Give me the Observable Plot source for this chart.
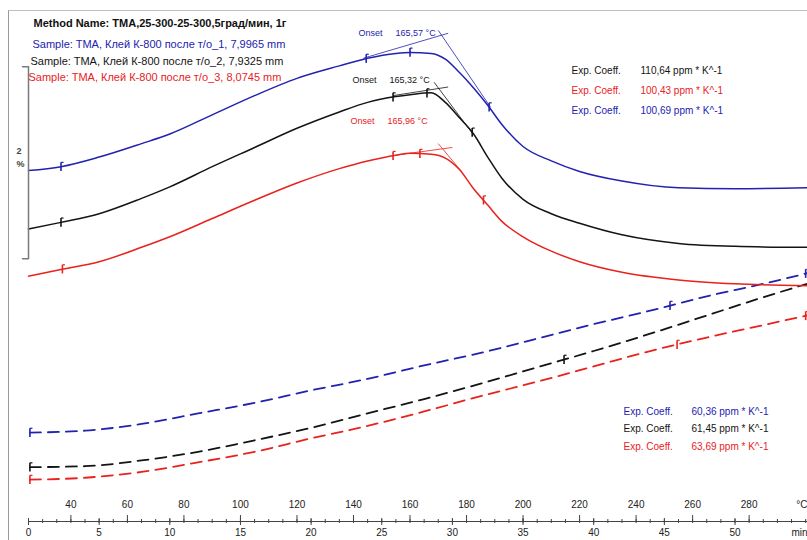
<!DOCTYPE html>
<html><head><meta charset="utf-8">
<script src="https://cdn.jsdelivr.net/npm/d3@7"></script>
<script src="https://cdn.jsdelivr.net/npm/@observablehq/plot@0.6"></script>
<style>
body{margin:0;background:#fff}
#wrap{position:relative;width:807px;height:540px;overflow:hidden;background:#fff}
#box{position:absolute;left:8px;top:10px;width:830px;height:560px;border-left:1px solid #9a9a9a;border-top:1px solid #c0c0c0;pointer-events:none}
</style></head><body><div id="wrap"><div id="box"></div></div>
<script>
// ---------- data (time in min, displacement in %, curves offset as in the original) ----------
const methodName = "Method Name: TMA,25-300-25-300,5град/мин, 1г";
const sampleNames = [
  "Sample: TMA, Клей К-800 после т/о_1, 7,9965 mm",
  "Sample: TMA, Клей К-800 после т/о_2, 7,9325 mm",
  "Sample: TMA, Клей К-800 после т/о_3, 8,0745 mm"
];
const onsetValues = ["165,57 °C", "165,32 °C", "165,96 °C"];
const expFirst = ["110,64 ppm * K^-1", "100,43 ppm * K^-1", "100,69 ppm * K^-1"]; // black, red, blue
const expSecond = ["60,36 ppm * K^-1", "61,45 ppm * K^-1", "63,69 ppm * K^-1"];   // blue, black, red

// first heating (solid)
const solidTime = [0, 2.3, 5, 8, 10, 13, 16, 19, 22, 24, 26, 27, 28.5, 29.5, 30.5, 31.5, 32.5, 33.5, 35, 37, 39, 42, 46, 50, 55.1];
const blueSolid  = [0, 0.04, 0.14, 0.28, 0.38, 0.58, 0.78, 0.96, 1.09, 1.17, 1.22, 1.23, 1.22, 1.16, 1.02, 0.86, 0.68, 0.48, 0.25, 0.10, -0.01, -0.11, -0.18, -0.19, -0.18];
const blackSolid = [-0.61, -0.54, -0.45, -0.29, -0.17, 0.04, 0.24, 0.44, 0.61, 0.71, 0.77, 0.79, 0.81, 0.71, 0.55, 0.38, 0.14, -0.08, -0.30, -0.45, -0.55, -0.67, -0.76, -0.79, -0.80];
const redSolid   = [-1.10, -1.03, -0.95, -0.80, -0.69, -0.50, -0.31, -0.13, 0.02, 0.10, 0.16, 0.18, 0.17, 0.13, 0.01, -0.19, -0.36, -0.53, -0.69, -0.84, -0.95, -1.06, -1.14, -1.18, -1.20];

// second heating (dashed)
const dashTime = [0.1, 4, 8, 12, 16, 20, 24, 28, 32, 36, 40, 44, 48, 52, 55.1];
const blueDash  = [-2.73, -2.71, -2.64, -2.53, -2.42, -2.29, -2.17, -2.03, -1.90, -1.75, -1.60, -1.46, -1.31, -1.18, -1.07];
const blackDash = [-3.09, -3.08, -3.02, -2.93, -2.81, -2.68, -2.53, -2.38, -2.22, -2.05, -1.88, -1.70, -1.51, -1.32, -1.18];
const redDash   = [-3.22, -3.20, -3.14, -3.04, -2.93, -2.79, -2.66, -2.51, -2.35, -2.20, -2.04, -1.88, -1.74, -1.61, -1.51];

// evaluation limit markers (time, min)
const blueSolidMarks  = [2.3, 23.9, 27.0, 32.6];
const blackSolidMarks = [2.3, 25.8, 28.2, 31.4];
const redSolidMarks   = [2.4, 25.8, 27.7, 32.2];
const blueDashMarks   = [0.1, 45.4, 55.0];
const blackDashMarks  = [0.1, 37.9];
const redDashMarks    = [0.1, 45.9, 55.0];

// onset tangents: [t1, v1, t2, v2]
const blueTangents  = [[23.7, 1.17, 29.7, 1.43], [29.0, 1.46, 32.7, 0.66]];
const blackTangents = [[25.8, 0.78, 29.7, 0.87], [28.7, 0.92, 31.4, 0.39]];
const redTangents   = [[26.0, 0.16, 30.0, 0.24], [29.0, 0.28, 30.7, -0.02]];

// axes
const tempTicks = [40, 60, 80, 100, 120, 140, 160, 180, 200, 220, 240, 260, 280];
const minuteTicks = [0, 5, 10, 15, 20, 25, 30, 35, 40, 45, 50];
const heatingRate = 5, startTemp = 25; // K/min, °C
const scaleBarTop = 1.08, scaleBarSpan = 2; // %

// ---------- drawing ----------
const BLUE = "#2222b0", BLACK = "#141414", RED = "#e8221d";
const FONT = "Liberation Sans, Arial, Helvetica, sans-serif";
const xDomain = [0, 55.13], yDomain = [-3.708, 1.771];
const axisLevel = -3.656; // time axis line
const FB = 526; // frame bottom (px) used for tick insets

function interp(ts, vs, t) {
  const i = Math.max(1, Math.min(ts.length - 1, d3.bisectLeft(ts, t)));
  const a = (t - ts[i - 1]) / (ts[i] - ts[i - 1]);
  return vs[i - 1] + a * (vs[i] - vs[i - 1]);
}
const series = [
  {color: BLUE,  solid: blueSolid,  dash: blueDash,  sm: blueSolidMarks,  dm: blueDashMarks,  tan: blueTangents},
  {color: BLACK, solid: blackSolid, dash: blackDash, sm: blackSolidMarks, dm: blackDashMarks, tan: blackTangents},
  {color: RED,   solid: redSolid,   dash: redDash,   sm: redSolidMarks,   dm: redDashMarks,   tan: redTangents}
];

function label(str, px, py, opts = {}) {
  return Plot.text([str], {frameAnchor: "top-left", dx: px - 28, dy: py, text: d => d,
    textAnchor: "start", lineAnchor: "middle", fontFamily: FONT, fontSize: 10, ...opts});
}

const marks = [];
for (const s of series) {
  const solidRows = solidTime.map((t, i) => ({t, v: s.solid[i]}));
  const dashRows = dashTime.map((t, i) => ({t, v: s.dash[i]}));
  marks.push(Plot.line(solidRows, {x: "t", y: "v", stroke: s.color, strokeWidth: 1.5, curve: "monotone-x"}));
  marks.push(Plot.line(dashRows, {x: "t", y: "v", stroke: s.color, strokeWidth: 1.8, strokeDasharray: "11,7", curve: "monotone-x"}));
  const mk = s.sm.map(t => ({t, v: interp(solidTime, s.solid, t)}))
    .concat(s.dm.map(t => ({t, v: interp(dashTime, s.dash, t)})));
  marks.push(Plot.link(mk, {x1: "t", x2: "t", y1: d => d.v + 0.045, y2: d => d.v - 0.045, stroke: s.color, strokeWidth: 1.6}));
  marks.push(Plot.link(mk, {x1: "t", x2: d => d.t + 0.18, y1: d => d.v + 0.045, y2: d => d.v + 0.045, stroke: s.color, strokeWidth: 1.2}));
  marks.push(Plot.link(s.tan, {x1: d => d[0], y1: d => d[1], x2: d => d[2], y2: d => d[3], stroke: s.color, strokeWidth: 0.8}));
}

// scale bar (2 %)
marks.push(Plot.line([[-0.42, scaleBarTop], [0, scaleBarTop], [0, scaleBarTop - scaleBarSpan], [-0.42, scaleBarTop - scaleBarSpan]],
  {x: d => d[0], y: d => d[1], stroke: "#7a7a7a", strokeWidth: 1.5}));
marks.push(Plot.text([`${scaleBarSpan}\n%`], {frameAnchor: "top-left", dx: -12, dy: 156, text: d => d, fontFamily: FONT,
  fontSize: 9, fontWeight: "bold", fill: "#444", lineAnchor: "middle", lineHeight: 1.4}));

// bottom axis: line, minute ticks, 5-minute ticks, temperature ticks
marks.push(Plot.ruleY([axisLevel], {x1: 0, x2: xDomain[1], stroke: "#444"}));
marks.push(Plot.tickX(d3.range(0, 56), {x: d => d, insetTop: FB - 7, insetBottom: 3, stroke: "#444"}));
marks.push(Plot.tickX(minuteTicks, {x: d => d, insetTop: FB - 8, insetBottom: 1, stroke: "#444"}));
marks.push(Plot.tickX(tempTicks, {x: T => (T - startTemp) / heatingRate, insetTop: FB - 11, insetBottom: 4, stroke: "#444"}));
marks.push(Plot.text(tempTicks, {x: T => (T - startTemp) / heatingRate, frameAnchor: "bottom", dy: -19, text: T => String(T),
  fontFamily: FONT, fontSize: 10, fill: "#222"}));
marks.push(Plot.text(minuteTicks, {x: m => m, frameAnchor: "bottom", dy: 9, text: m => String(m),
  fontFamily: FONT, fontSize: 10, fill: "#222"}));
marks.push(Plot.text(["°C"], {frameAnchor: "bottom-right", dx: 0, dy: -19, textAnchor: "end", fontFamily: FONT, fontSize: 10, fill: "#222", text: d => d}));
marks.push(Plot.text(["min"], {frameAnchor: "bottom-right", dx: 0, dy: 9, textAnchor: "end", fontFamily: FONT, fontSize: 10, fill: "#222", text: d => d}));

// header
marks.push(label(methodName, 33, 23, {fontSize: 11, fontWeight: "bold", fill: "#111"}));
marks.push(label(sampleNames[0], 32, 44, {fontSize: 11, fill: BLUE}));
marks.push(label(sampleNames[1], 30, 61, {fontSize: 11, fill: BLACK}));
marks.push(label(sampleNames[2], 28, 77, {fontSize: 11, fill: RED}));

// onsets
[[BLUE, 358, 395, 33], [BLACK, 352, 389, 80], [RED, 350, 387, 121]].forEach(([c, x1, x2, y], i) => {
  marks.push(label("Onset", x1, y, {fontSize: 9, fill: c}));
  marks.push(label(onsetValues[i], x2, y, {fontSize: 9, fill: c}));
});

// expansion coefficients
[BLACK, RED, BLUE].forEach((c, i) => {
  marks.push(label("Exp. Coeff.", 571, 70 + i * 20, {fill: c}));
  marks.push(label(expFirst[i], 640, 70 + i * 20, {fill: c}));
});
[BLUE, BLACK, RED].forEach((c, i) => {
  marks.push(label("Exp. Coeff.", 623, 411 + i * 17.5, {fill: c}));
  marks.push(label(expSecond[i], 691, 411 + i * 17.5, {fill: c}));
});

const chart = Plot.plot({
  width: 807, height: 540,
  marginLeft: 28, marginRight: 0, marginTop: 0, marginBottom: 540 - FB,
  x: {domain: xDomain, axis: null},
  y: {domain: yDomain, axis: null},
  style: {background: "transparent", fontFamily: FONT, overflow: "visible"},
  marks
});
chart.style.position = "absolute";
chart.style.left = "0px";
chart.style.top = "0px";
document.getElementById("wrap").appendChild(chart);
</script>
</body></html>
